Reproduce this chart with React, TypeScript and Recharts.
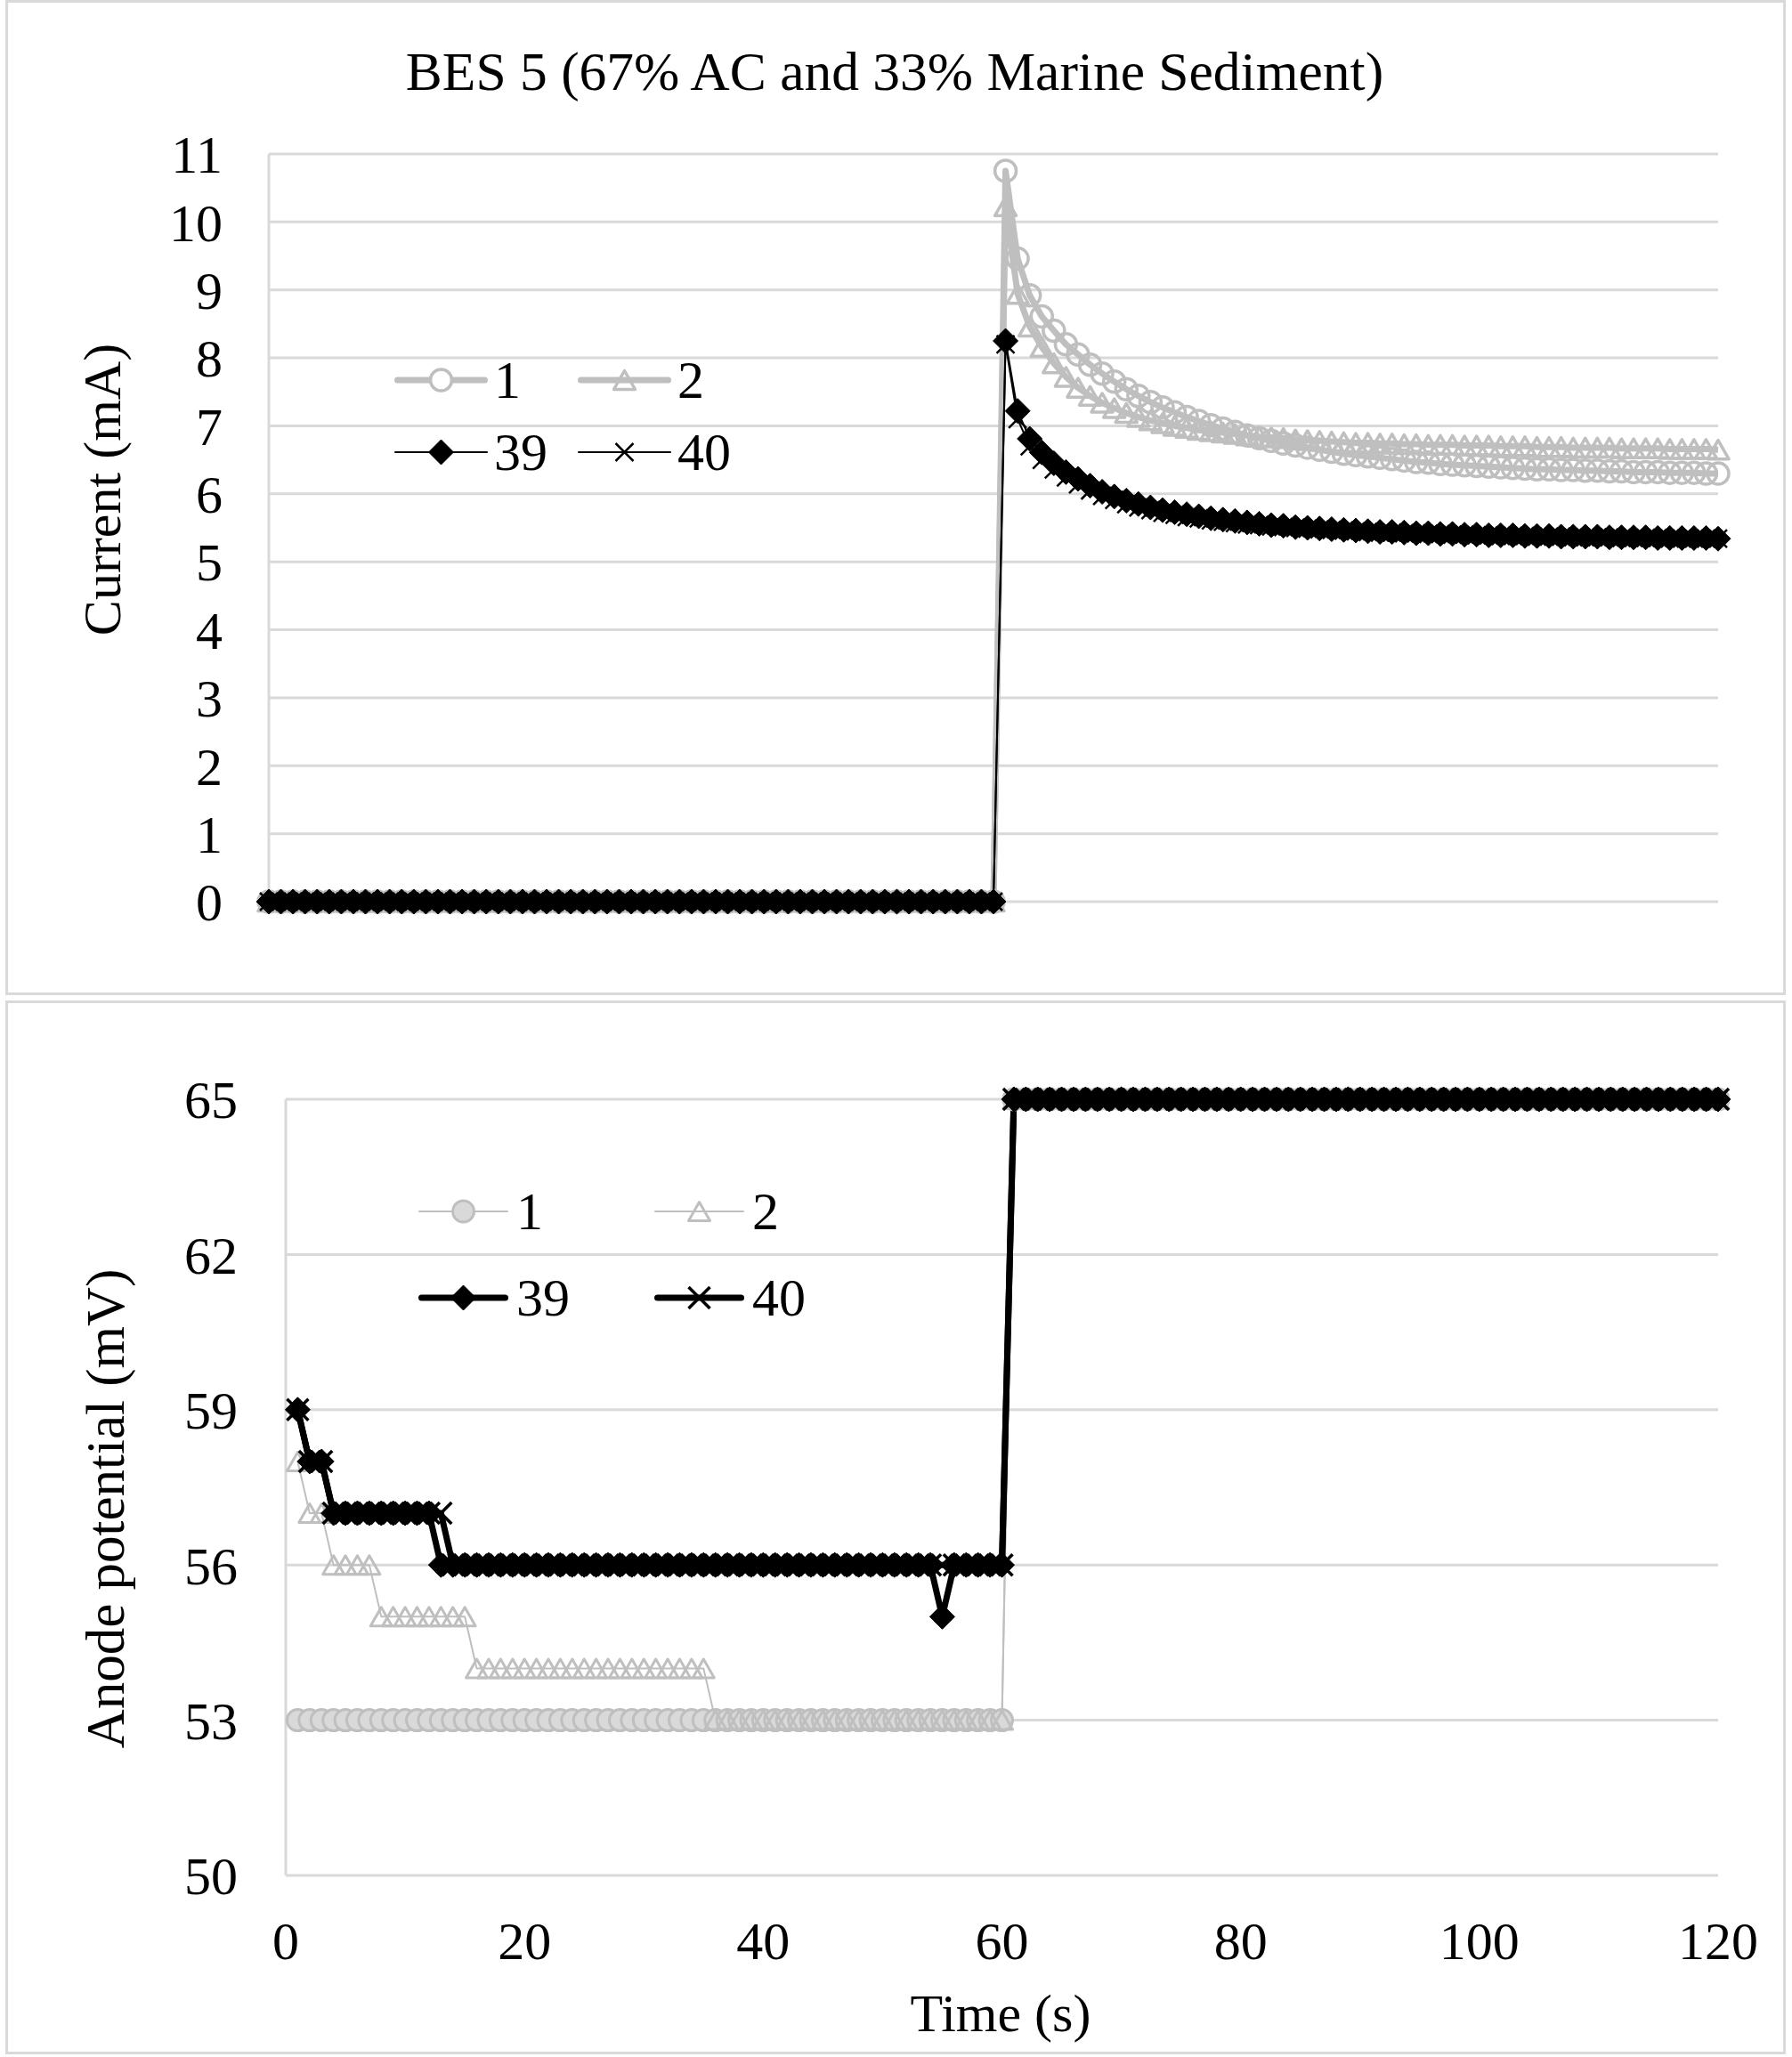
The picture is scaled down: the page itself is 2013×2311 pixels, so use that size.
import React from "react"
import { CartesianGrid, Legend, Line, LineChart, XAxis, YAxis } from "recharts"

const GRAY = "#bfbfbf"
const GRID = "#d9d9d9"
const FONT = '"Liberation Serif", "Times New Roman", serif'

// time in seconds (top panel samples 0..120, bottom panel 1..120)
const TIME = [
    0, 1, 2, 3, 4, 5, 6, 7, 8, 9, 10, 11, 12, 13, 14, 15, 16, 17, 18, 19, 20,
    21, 22, 23, 24, 25, 26, 27, 28, 29, 30, 31, 32, 33, 34, 35, 36, 37, 38, 39, 40,
    41, 42, 43, 44, 45, 46, 47, 48, 49, 50, 51, 52, 53, 54, 55, 56, 57, 58, 59, 60,
    61, 62, 63, 64, 65, 66, 67, 68, 69, 70, 71, 72, 73, 74, 75, 76, 77, 78, 79, 80,
    81, 82, 83, 84, 85, 86, 87, 88, 89, 90, 91, 92, 93, 94, 95, 96, 97, 98, 99, 100,
    101, 102, 103, 104, 105, 106, 107, 108, 109, 110, 111, 112, 113, 114, 115, 116, 117, 118, 119, 120,
]

// current (mA), t = 0..120
const CURRENT_1 = [
    0, 0, 0, 0, 0, 0, 0, 0, 0, 0, 0, 0, 0, 0, 0, 0, 0, 0, 0, 0, 0,
    0, 0, 0, 0, 0, 0, 0, 0, 0, 0, 0, 0, 0, 0, 0, 0, 0, 0, 0, 0,
    0, 0, 0, 0, 0, 0, 0, 0, 0, 0, 0, 0, 0, 0, 0, 0, 0, 0, 0, 0,
    10.75, 9.46, 8.92, 8.61, 8.4, 8.2, 8.05, 7.9, 7.77, 7.65, 7.54, 7.44, 7.35, 7.27, 7.2, 7.13, 7.07, 7.01, 6.96, 6.91,
    6.86, 6.82, 6.78, 6.74, 6.71, 6.68, 6.65, 6.62, 6.59, 6.57, 6.55, 6.53, 6.51, 6.49, 6.47, 6.46, 6.44, 6.43, 6.42, 6.41,
    6.4, 6.39, 6.38, 6.37, 6.36, 6.36, 6.35, 6.35, 6.34, 6.34, 6.33, 6.33, 6.32, 6.32, 6.32, 6.31, 6.31, 6.31, 6.3, 6.3,
]
const CURRENT_2 = [
    0, 0, 0, 0, 0, 0, 0, 0, 0, 0, 0, 0, 0, 0, 0, 0, 0, 0, 0, 0, 0,
    0, 0, 0, 0, 0, 0, 0, 0, 0, 0, 0, 0, 0, 0, 0, 0, 0, 0, 0, 0,
    0, 0, 0, 0, 0, 0, 0, 0, 0, 0, 0, 0, 0, 0, 0, 0, 0, 0, 0, 0,
    10.23, 8.94, 8.46, 8.16, 7.92, 7.72, 7.56, 7.44, 7.34, 7.26, 7.19, 7.13, 7.08, 7.04, 7.0, 6.97, 6.94, 6.92, 6.9, 6.88,
    6.86, 6.84, 6.83, 6.82, 6.8, 6.79, 6.78, 6.77, 6.76, 6.75, 6.75, 6.74, 6.74, 6.73, 6.73, 6.72, 6.72, 6.72, 6.71, 6.71,
    6.71, 6.7, 6.7, 6.7, 6.69, 6.69, 6.69, 6.68, 6.68, 6.68, 6.68, 6.67, 6.67, 6.67, 6.67, 6.66, 6.66, 6.66, 6.66, 6.65,
]
const CURRENT_39 = [
    0, 0, 0, 0, 0, 0, 0, 0, 0, 0, 0, 0, 0, 0, 0, 0, 0, 0, 0, 0, 0,
    0, 0, 0, 0, 0, 0, 0, 0, 0, 0, 0, 0, 0, 0, 0, 0, 0, 0, 0, 0,
    0, 0, 0, 0, 0, 0, 0, 0, 0, 0, 0, 0, 0, 0, 0, 0, 0, 0, 0, 0,
    8.25, 7.22, 6.81, 6.61, 6.45, 6.32, 6.22, 6.12, 6.03, 5.96, 5.9, 5.85, 5.8, 5.76, 5.73, 5.7, 5.67, 5.64, 5.62, 5.6,
    5.58, 5.56, 5.54, 5.53, 5.51, 5.5, 5.49, 5.48, 5.47, 5.46, 5.45, 5.44, 5.44, 5.43, 5.42, 5.42, 5.41, 5.41, 5.4, 5.4,
    5.39, 5.39, 5.39, 5.38, 5.38, 5.38, 5.37, 5.37, 5.37, 5.37, 5.36, 5.36, 5.36, 5.36, 5.35, 5.35, 5.35, 5.35, 5.35, 5.34,
]
const CURRENT_40 = [
    0, 0, 0, 0, 0, 0, 0, 0, 0, 0, 0, 0, 0, 0, 0, 0, 0, 0, 0, 0, 0,
    0, 0, 0, 0, 0, 0, 0, 0, 0, 0, 0, 0, 0, 0, 0, 0, 0, 0, 0, 0,
    0, 0, 0, 0, 0, 0, 0, 0, 0, 0, 0, 0, 0, 0, 0, 0, 0, 0, 0, 0,
    8.2, 7.1, 6.7, 6.5, 6.36, 6.24, 6.14, 6.05, 5.97, 5.91, 5.85, 5.8, 5.76, 5.72, 5.69, 5.66, 5.64, 5.61, 5.59, 5.57,
    5.55, 5.54, 5.52, 5.51, 5.5, 5.49, 5.48, 5.47, 5.46, 5.45, 5.44, 5.43, 5.43, 5.42, 5.42, 5.41, 5.41, 5.4, 5.4, 5.39,
    5.39, 5.38, 5.38, 5.38, 5.37, 5.37, 5.37, 5.36, 5.36, 5.36, 5.36, 5.35, 5.35, 5.35, 5.35, 5.34, 5.34, 5.34, 5.34, 5.34,
]

// anode potential (mV), t = 1..120
const POTENTIAL_1 = [
    53, 53, 53, 53, 53, 53, 53, 53, 53, 53, 53, 53, 53, 53, 53, 53, 53, 53, 53, 53,
    53, 53, 53, 53, 53, 53, 53, 53, 53, 53, 53, 53, 53, 53, 53, 53, 53, 53, 53, 53,
    53, 53, 53, 53, 53, 53, 53, 53, 53, 53, 53, 53, 53, 53, 53, 53, 53, 53, 53, 53,
    65, 65, 65, 65, 65, 65, 65, 65, 65, 65, 65, 65, 65, 65, 65, 65, 65, 65, 65, 65,
    65, 65, 65, 65, 65, 65, 65, 65, 65, 65, 65, 65, 65, 65, 65, 65, 65, 65, 65, 65,
    65, 65, 65, 65, 65, 65, 65, 65, 65, 65, 65, 65, 65, 65, 65, 65, 65, 65, 65, 65,
]
const POTENTIAL_2 = [
    58, 57, 57, 56, 56, 56, 56, 55, 55, 55, 55, 55, 55, 55, 55, 54, 54, 54, 54, 54,
    54, 54, 54, 54, 54, 54, 54, 54, 54, 54, 54, 54, 54, 54, 54, 53, 53, 53, 53, 53,
    53, 53, 53, 53, 53, 53, 53, 53, 53, 53, 53, 53, 53, 53, 53, 53, 53, 53, 53, 53,
    65, 65, 65, 65, 65, 65, 65, 65, 65, 65, 65, 65, 65, 65, 65, 65, 65, 65, 65, 65,
    65, 65, 65, 65, 65, 65, 65, 65, 65, 65, 65, 65, 65, 65, 65, 65, 65, 65, 65, 65,
    65, 65, 65, 65, 65, 65, 65, 65, 65, 65, 65, 65, 65, 65, 65, 65, 65, 65, 65, 65,
]
const POTENTIAL_39 = [
    59, 58, 58, 57, 57, 57, 57, 57, 57, 57, 57, 57, 56, 56, 56, 56, 56, 56, 56, 56,
    56, 56, 56, 56, 56, 56, 56, 56, 56, 56, 56, 56, 56, 56, 56, 56, 56, 56, 56, 56,
    56, 56, 56, 56, 56, 56, 56, 56, 56, 56, 56, 56, 56, 56, 55, 56, 56, 56, 56, 56,
    65, 65, 65, 65, 65, 65, 65, 65, 65, 65, 65, 65, 65, 65, 65, 65, 65, 65, 65, 65,
    65, 65, 65, 65, 65, 65, 65, 65, 65, 65, 65, 65, 65, 65, 65, 65, 65, 65, 65, 65,
    65, 65, 65, 65, 65, 65, 65, 65, 65, 65, 65, 65, 65, 65, 65, 65, 65, 65, 65, 65,
]
const POTENTIAL_40 = [
    59, 58, 58, 57, 57, 57, 57, 57, 57, 57, 57, 57, 57, 56, 56, 56, 56, 56, 56, 56,
    56, 56, 56, 56, 56, 56, 56, 56, 56, 56, 56, 56, 56, 56, 56, 56, 56, 56, 56, 56,
    56, 56, 56, 56, 56, 56, 56, 56, 56, 56, 56, 56, 56, 56, 56, 56, 56, 56, 56, 56,
    65, 65, 65, 65, 65, 65, 65, 65, 65, 65, 65, 65, 65, 65, 65, 65, 65, 65, 65, 65,
    65, 65, 65, 65, 65, 65, 65, 65, 65, 65, 65, 65, 65, 65, 65, 65, 65, 65, 65, 65,
    65, 65, 65, 65, 65, 65, 65, 65, 65, 65, 65, 65, 65, 65, 65, 65, 65, 65, 65, 65,
]

const CURRENT_TICKS = [0, 1, 2, 3, 4, 5, 6, 7, 8, 9, 10, 11]
const POTENTIAL_TICKS = [50, 53, 56, 59, 62, 65]
const TIME_TICKS = [0, 20, 40, 60, 80, 100, 120]
const SERIES_NAMES = ["1", "2", "39", "40"]

const currentData = TIME.map((t, i) => ({
    t,
    s1: CURRENT_1[i],
    s2: CURRENT_2[i],
    s39: CURRENT_39[i],
    s40: CURRENT_40[i],
}))

const potentialData = TIME.slice(1).map((t, i) => ({
    t,
    s1: POTENTIAL_1[i],
    s2: POTENTIAL_2[i],
    s39: POTENTIAL_39[i],
    s40: POTENTIAL_40[i],
}))

// marker shapes
type Mark = "circle" | "triangle" | "diamond" | "cross"

function marker(kind: Mark, cx: number, cy: number, opts: { fill?: string; sw: number; size: number }, key?: string) {
    const s = opts.size
    if (kind === "circle") {
        return <circle key={key} cx={cx} cy={cy} r={s} fill={opts.fill ?? "none"} stroke={GRAY} strokeWidth={opts.sw} />
    }
    if (kind === "triangle") {
        const h = s * 1.75
        const pts = `${cx},${cy - h / 2} ${cx - s},${cy + h / 2} ${cx + s},${cy + h / 2}`
        return <polygon key={key} points={pts} fill={opts.fill ?? "none"} stroke={GRAY} strokeWidth={opts.sw} strokeLinejoin="round" />
    }
    if (kind === "diamond") {
        const pts = `${cx},${cy - s} ${cx + s},${cy} ${cx},${cy + s} ${cx - s},${cy}`
        return <polygon key={key} points={pts} fill="#000" stroke="#000" strokeWidth={1} />
    }
    return (
        <g key={key}>
            <line x1={cx - s} y1={cy - s} x2={cx + s} y2={cy + s} stroke="#000" strokeWidth={opts.sw} />
            <line x1={cx - s} y1={cy + s} x2={cx + s} y2={cy - s} stroke="#000" strokeWidth={opts.sw} />
        </g>
    )
}

const dotRenderer = (kind: Mark, opts: { fill?: string; sw: number; size: number }) => (p: any) => {
    if (p.cx == null || p.cy == null || p.value == null) return <g key={`e-${kind}-${p.index}`} />
    return marker(kind, p.cx, p.cy, opts, `${kind}-${p.index}`)
}

const TOP_MARKS: Record<string, { kind: Mark; stroke: string; width: number; opts: { fill?: string; sw: number; size: number } }> = {
    "1": { kind: "circle", stroke: GRAY, width: 7, opts: { fill: "none", sw: 3.5, size: 12 } },
    "2": { kind: "triangle", stroke: GRAY, width: 7, opts: { fill: "none", sw: 3.5, size: 12 } },
    "39": { kind: "diamond", stroke: "#000", width: 2, opts: { sw: 1, size: 14 } },
    "40": { kind: "cross", stroke: "#000", width: 2, opts: { sw: 2.5, size: 10 } },
}

const BOTTOM_MARKS: Record<string, { kind: Mark; stroke: string; width: number; opts: { fill?: string; sw: number; size: number } }> = {
    "1": { kind: "circle", stroke: GRAY, width: 2, opts: { fill: GRID, sw: 3, size: 12 } },
    "2": { kind: "triangle", stroke: GRAY, width: 2, opts: { fill: "none", sw: 3, size: 12 } },
    "39": { kind: "diamond", stroke: "#000", width: 7, opts: { sw: 1, size: 14 } },
    "40": { kind: "cross", stroke: "#000", width: 7, opts: { sw: 3.5, size: 12 } },
}

function makeLegend(marks: typeof TOP_MARKS, lineLen: number, colWidth: number, rowHeight: number, gap: number) {
    return () => (
        <div style={{ position: "relative", width: colWidth * 2, height: rowHeight * 2, fontFamily: FONT, fontSize: 60, color: "#000" }}>
            {SERIES_NAMES.map((name, i) => {
                const m = marks[name]
                const col = i % 2
                const row = Math.floor(i / 2)
                return (
                    <div
                        key={name}
                        style={{
                            position: "absolute",
                            left: col * colWidth,
                            top: row * rowHeight,
                            height: rowHeight,
                            display: "flex",
                            alignItems: "center",
                            whiteSpace: "nowrap",
                        }}
                    >
                        <svg width={lineLen} height={40} style={{ display: "block" }}>
                            <line x1={m.width / 2} y1={20} x2={lineLen - m.width / 2} y2={20} stroke={m.stroke} strokeWidth={m.width} strokeLinecap="round" />
                            {marker(m.kind, lineLen / 2, 20, m.kind === "circle" && m.opts.fill === "none" ? { ...m.opts, fill: "#fff" } : m.opts)}
                        </svg>
                        <span style={{ marginLeft: gap, lineHeight: 1 }}>{name}</span>
                    </div>
                )
            })}
        </div>
    )
}

const tickStyle = { fontFamily: FONT, fontSize: 60, fill: "#000" }

const textStyle: React.CSSProperties = {
    position: "absolute",
    fontFamily: FONT,
    fontSize: 60,
    lineHeight: 1,
    whiteSpace: "nowrap",
    color: "#000",
}

export default function App() {
    return (
        <div style={{ position: "absolute", left: 0, top: 0, width: 2013, height: 2311, background: "#fff", overflow: "hidden" }}>
            <div style={{ position: "absolute", left: 6, top: 0, width: 2000, height: 1118, border: `3px solid ${GRID}`, boxSizing: "border-box" }} />
            <div style={{ position: "absolute", left: 6, top: 1124, width: 2000, height: 1184, border: `3px solid ${GRID}`, boxSizing: "border-box" }} />

            <div style={{ position: "absolute", left: 0, top: 0 }}>
                <LineChart width={2013} height={1118} data={currentData} margin={{ top: 173, right: 83, bottom: 105, left: 0 }}>
                    <CartesianGrid vertical={false} stroke={GRID} strokeWidth={3} />
                    <XAxis dataKey="t" type="number" domain={[0, 120]} hide />
                    <YAxis
                        type="number"
                        domain={[0, 11]}
                        ticks={CURRENT_TICKS}
                        width={302}
                        axisLine={{ stroke: GRID, strokeWidth: 3 }}
                        tickLine={false}
                        tickSize={0}
                        tickMargin={52}
                        tick={tickStyle}
                        interval={0}
                    />
                    <Legend
                        layout="horizontal"
                        verticalAlign="middle"
                        align="center"
                        content={makeLegend(TOP_MARKS, 105, 206, 81, 7)}
                        wrapperStyle={{ left: 443, top: 386, width: 420, height: 162 }}
                    />
                    {SERIES_NAMES.map((name) => {
                        const m = TOP_MARKS[name]
                        return (
                            <Line
                                key={name}
                                type="linear"
                                dataKey={`s${name}`}
                                name={name}
                                stroke={m.stroke}
                                strokeWidth={m.width}
                                strokeLinejoin="round"
                                dot={dotRenderer(m.kind, m.opts)}
                                activeDot={false}
                                isAnimationActive={false}
                            />
                        )
                    })}
                </LineChart>
            </div>

            <div style={{ position: "absolute", left: 0, top: 1124 }}>
                <LineChart width={2013} height={1184} data={potentialData} margin={{ top: 111, right: 83, bottom: 81, left: 0 }}>
                    <CartesianGrid vertical={false} stroke={GRID} strokeWidth={3} />
                    <XAxis
                        dataKey="t"
                        type="number"
                        domain={[0, 120]}
                        ticks={TIME_TICKS}
                        height={120}
                        axisLine={false}
                        tickLine={false}
                        tickSize={0}
                        tickMargin={51}
                        tick={tickStyle}
                        interval={0}
                    />
                    <YAxis
                        type="number"
                        domain={[50, 65]}
                        ticks={POTENTIAL_TICKS}
                        width={321}
                        axisLine={{ stroke: GRID, strokeWidth: 3 }}
                        tickLine={false}
                        tickSize={0}
                        tickMargin={54}
                        tick={tickStyle}
                        interval={0}
                    />
                    <Legend
                        layout="horizontal"
                        verticalAlign="middle"
                        align="center"
                        content={makeLegend(BOTTOM_MARKS, 101, 265, 97, 9)}
                        wrapperStyle={{ left: 470, top: 188, width: 540, height: 194 }}
                    />
                    {SERIES_NAMES.map((name) => {
                        const m = BOTTOM_MARKS[name]
                        return (
                            <Line
                                key={name}
                                type="linear"
                                dataKey={`s${name}`}
                                name={name}
                                stroke={m.stroke}
                                strokeWidth={m.width}
                                strokeLinejoin="round"
                                dot={dotRenderer(m.kind, m.opts)}
                                activeDot={false}
                                isAnimationActive={false}
                            />
                        )
                    })}
                </LineChart>
            </div>

            <div style={{ ...textStyle, fontSize: 61.5, left: 1005, top: 81, transform: "translate(-50%, -50%)" }}>
                BES 5 (67% AC and 33% Marine Sediment)
            </div>
            <div style={{ ...textStyle, left: 115, top: 550, transform: "translate(-50%, -50%) rotate(-90deg)" }}>Current (mA)</div>
            <div style={{ ...textStyle, fontSize: 61, left: 118, top: 1695, transform: "translate(-50%, -50%) rotate(-90deg)" }}>
                Anode potential (mV)
            </div>
            <div style={{ ...textStyle, left: 1124, top: 2262, transform: "translate(-50%, -50%)" }}>Time (s)</div>
        </div>
    )
}
